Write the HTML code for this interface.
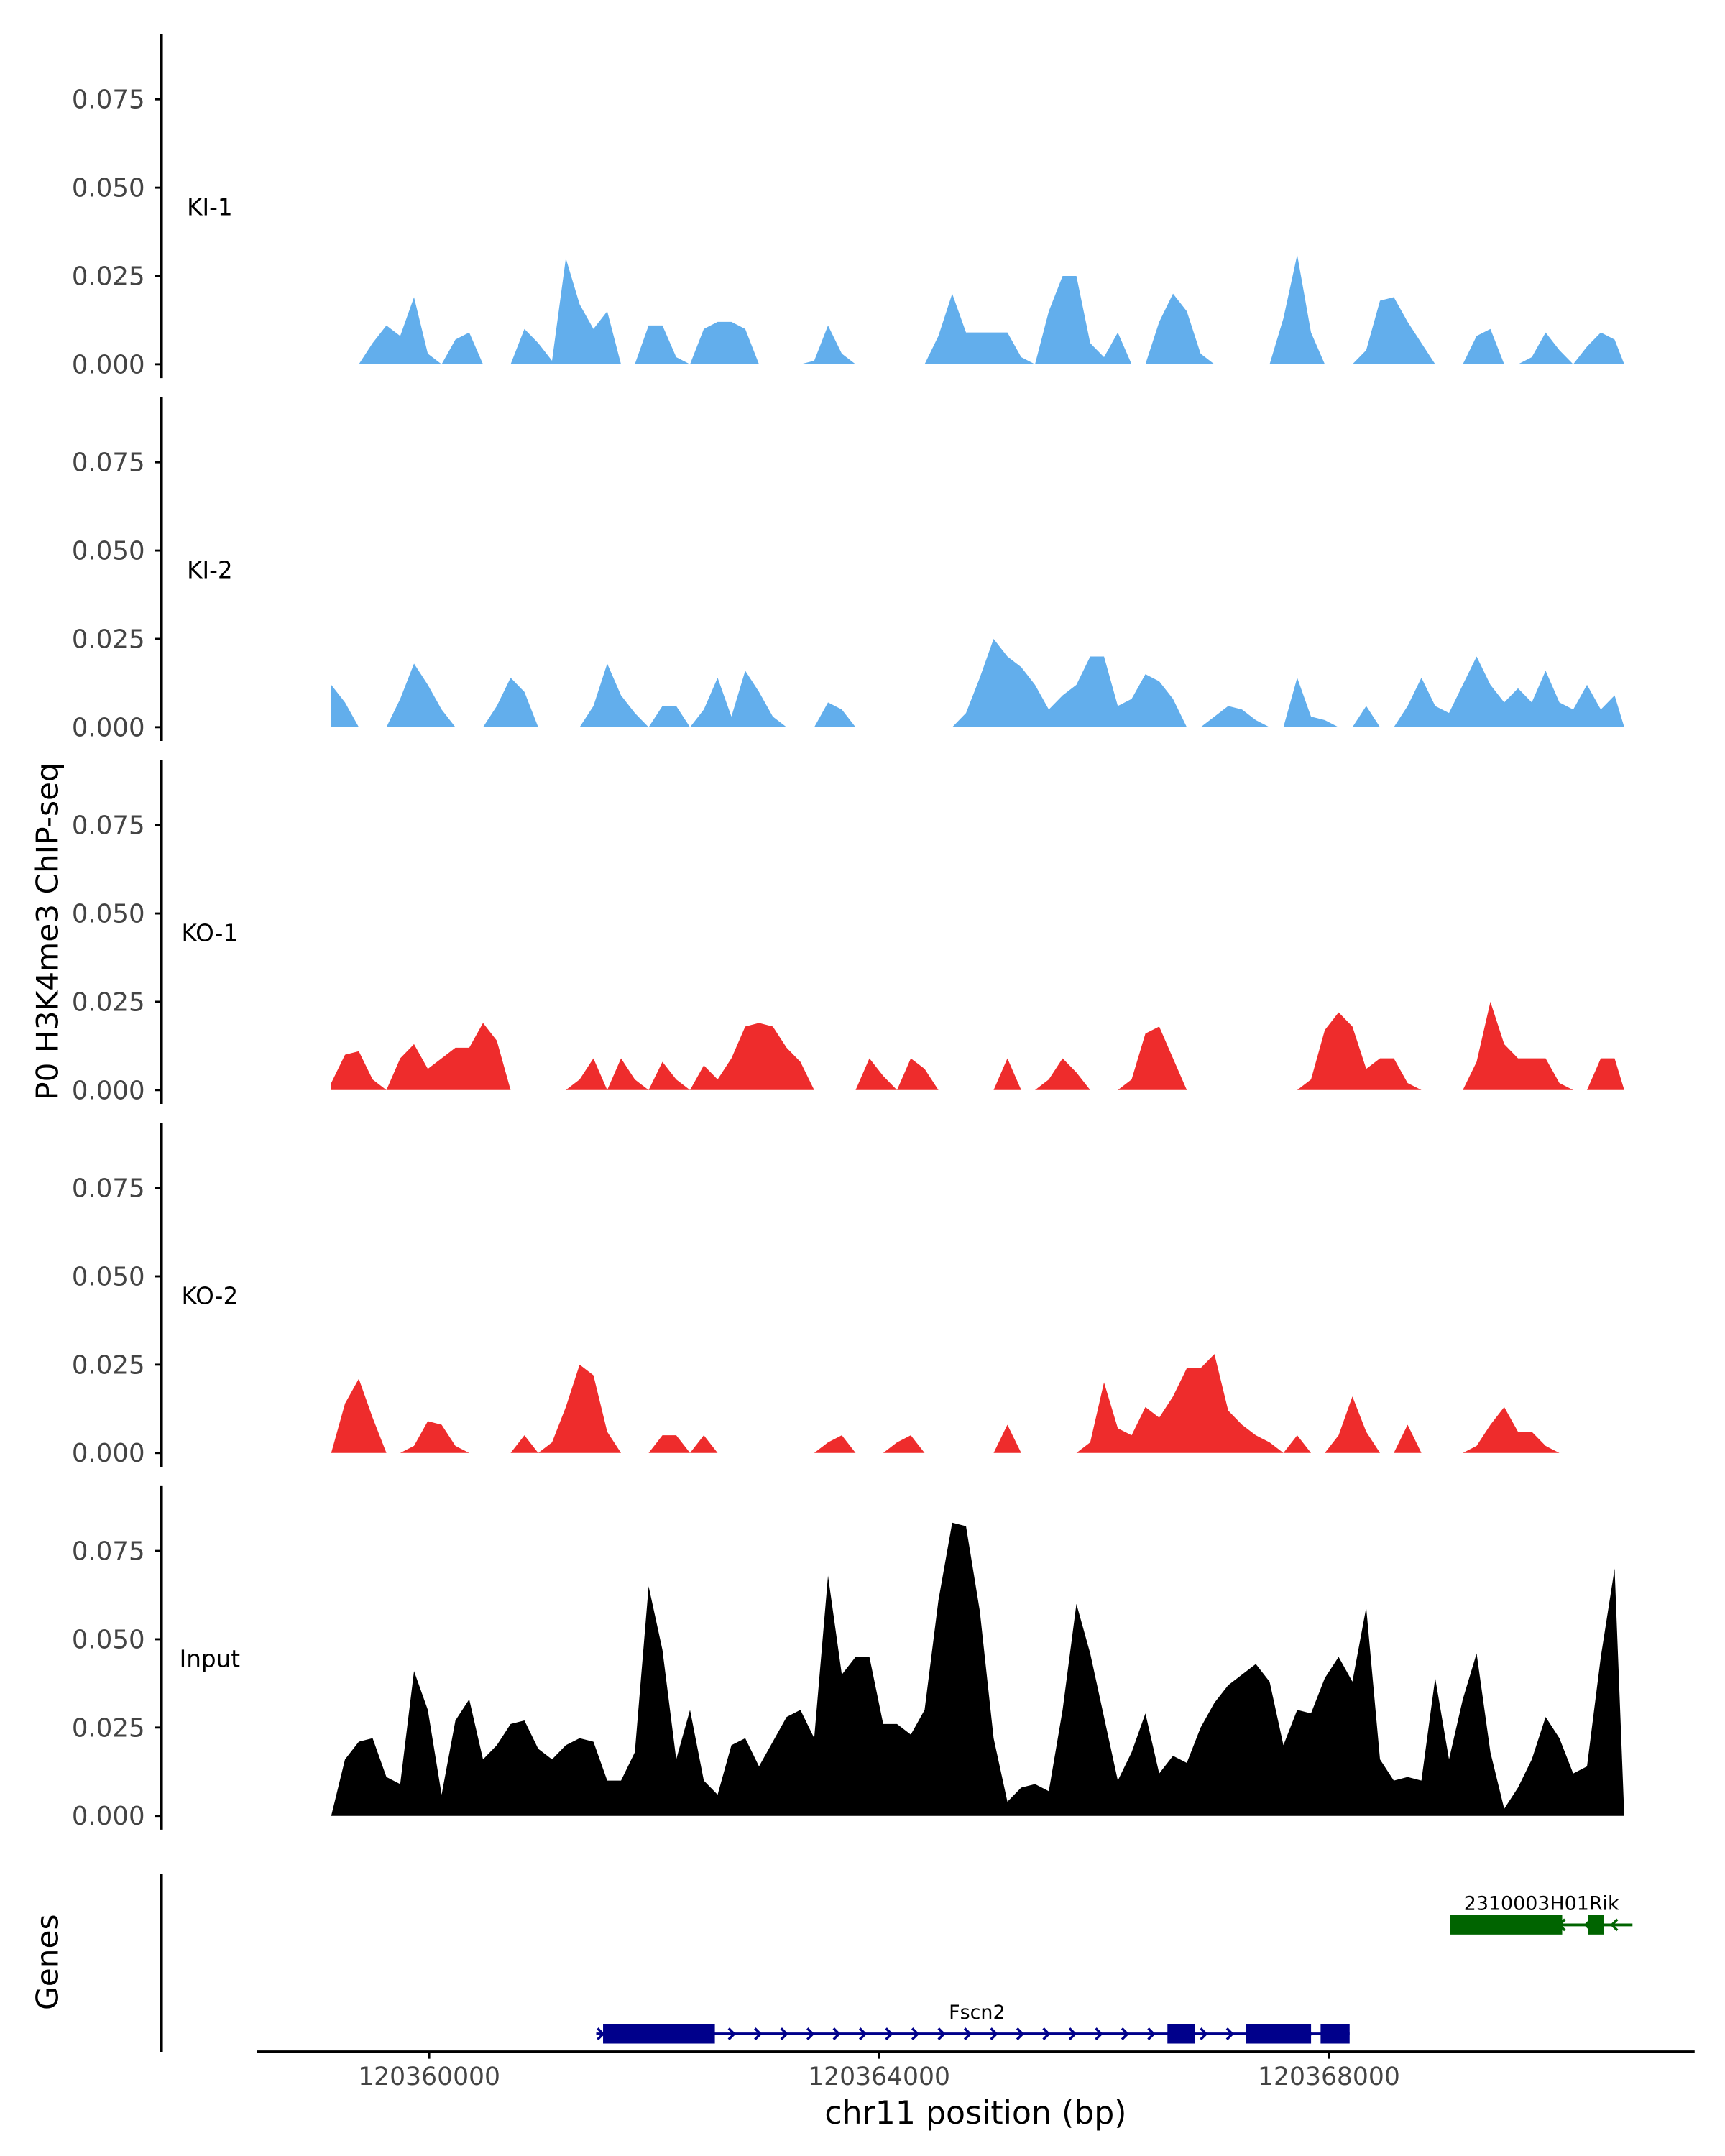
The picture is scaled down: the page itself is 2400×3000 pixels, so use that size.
<!DOCTYPE html>
<html><head><meta charset="utf-8"><style>
html,body{margin:0;padding:0;background:#fff}
svg{display:block}
text{font-family:"DejaVu Sans","Liberation Sans",sans-serif}
</style></head><body>
<svg id="chart" width="2400" height="3000" viewBox="0 0 1250 1562.5" xmlns="http://www.w3.org/2000/svg">
<rect width="1250" height="1562.5" fill="#fff"/>
<g id="tracks"></g>
<g id="genes"></g>
<text x="0" y="0" transform="translate(42,675) rotate(-90)" font-size="22" text-anchor="middle" fill="#000">P0 H3K4me3 ChIP-seq</text>
<text x="0" y="0" transform="translate(42,1422) rotate(-90)" font-size="22" text-anchor="middle" fill="#000">Genes</text>
<text x="707" y="1539" font-size="23" text-anchor="middle" fill="#000">chr11 position (bp)</text>
</svg>
<script>
const NS="http://www.w3.org/2000/svg";
// Data
const trackNames=["KI-1","KI-2","KO-1","KO-2","Input"];
const trackColors=["#62AEEC","#62AEEC","#EE2C2C","#EE2C2C","#000000"];
const binStart=120359129;
const binWidth=122.7;
const valueUnit=0.001;
const ki1=[0,0,0,6,11,8,19,3,0,7, 9,0,0,0,10,6,1,30,17,10, 15,0,0,11,11,2,0,10,12,12, 10,0,0,0,0,1,11,3,0,0, 0,0,0,0,8,20,9,9,9,9, 2,0,15,25,25,6,2,9,0,0, 12,20,15,3,0,0,0,0,0,13, 31,9,0,0,0,4,18,19,12,6, 0,0,0,8,10,0,0,2,9,4, 0,5,9,7];
const ki2=[12,7,0,0,0,8,18,12,5,0, 0,0,6,14,10,0,0,0,0,6, 18,9,4,0,6,6,0,5,14,3, 16,10,3,0,0,0,7,5,0,0, 0,0,0,0,0,0,4,14,25,20, 17,12,5,9,12,20,20,6,8,15, 13,8,0,0,3,6,5,2,0,0, 14,3,2,0,0,6,0,0,6,14, 6,4,12,20,12,7,11,7,16,7, 5,12,5,9];
const ko1=[2,10,11,3,0,9,13,6,9,12, 12,19,14,0,0,0,0,0,3,9, 0,9,3,0,8,3,0,7,3,9, 18,19,18,12,8,0,0,0,0,9, 4,0,9,6,0,0,0,0,0,9, 0,0,3,9,5,0,0,0,3,16, 18,9,0,0,0,0,0,0,0,0, 0,3,17,22,18,6,9,9,2,0, 0,0,0,8,25,13,9,9,9,2, 0,0,9,9];
const ko2=[0,14,21,10,0,0,2,9,8,2, 0,0,0,0,5,0,3,13,25,22, 6,0,0,0,5,5,0,5,0,0, 0,0,0,0,0,0,3,5,0,0, 0,3,5,0,0,0,0,0,0,8, 0,0,0,0,0,3,20,7,5,13, 10,16,24,24,28,12,8,5,3,0, 5,0,0,5,16,6,0,0,8,0, 0,0,0,2,8,13,6,6,2,0, 0,0,0,0];
const input=[0,16,21,22,11,9,41,30,6,27, 33,16,20,26,27,19,16,20,22,21, 10,10,18,65,47,16,30,10,6,20, 22,14,21,28,30,22,68,40,45,45, 26,26,23,30,61,83,82,58,22,4, 8,9,7,30,60,46,28,10,18,29, 12,17,15,25,32,37,40,43,38,20, 30,29,39,45,38,59,16,10,11,10, 39,16,33,46,18,2,8,16,28,22, 12,14,45,70];
const seriesList=[ki1,ki2,ko1,ko2,input];
const yTicks=[0,0.025,0.05,0.075];
const yTickLabels=["0.000","0.025","0.050","0.075"];
const xTicks=[120360000,120364000,120368000];
const xTickLabels=["120360000","120364000","120368000"];
const genes=["Fscn2","2310003H01Rik"];
const geneStarts=[120361485,120369080];
const geneEnds=[120368184,120370699];
const geneExonStarts=[[120361546,120366564,120367264,120367926],[120369080,120370307]];
const geneExonEnds=[[120362540,120366810,120367841,120368184],[120370074,120370442]];
const geneStrands=[1,-1];
const geneColors=["#00008B","#006400"];

// Scales
const xScale=bp=>311+(bp-120360000)*0.0815;
const baseY=[264,527,790,1053,1316];
const yScale=(i,v)=>baseY[i]-v*2560;

function el(tag,attrs,parent){const e=document.createElementNS(NS,tag);for(const k in attrs)e.setAttribute(k,attrs[k]);parent.appendChild(e);return e;}
const tracks=document.getElementById('tracks');
seriesList.forEach((s,i)=>{
  const g=el('g',{},tracks);
  
  
  const ax=el('line',{x1:117,x2:117,y1:baseY[i]-239,y2:baseY[i]+10,stroke:'#000','stroke-width':2},g);
  
  
  yTicks.forEach((t,k)=>{
    const y=yScale(i,t);
    const tk=el('line',{x1:112,x2:117,y1:y,y2:y,stroke:'#000','stroke-width':1.5},g);
    
    
    const tl=el('text',{x:105,y:y+6.5,'font-size':18.5,'text-anchor':'end',fill:'#444'},g);
    tl.textContent=yTickLabels[k];
    
    
  });
  const lb=el('text',{x:152,y:yScale(i,0.0445)+6,'font-size':17,'text-anchor':'middle',fill:'#000'},g);
  lb.textContent=trackNames[i];
  
  
  let pts=[];
  const x0=xScale(binStart);
  pts.push(x0+','+baseY[i]);
  s.forEach((v,k)=>{pts.push(xScale(binStart+k*binWidth)+','+yScale(i,v*valueUnit));});
  const xe=xScale(binStart+(s.length-1)*binWidth)+7;
  pts.push(xe+','+baseY[i]);
  const a=el('polygon',{points:pts.join(' '),fill:trackColors[i]},g);
  
  
});
// Genes panel
const gg=document.getElementById('genes');
const gax=el('line',{x1:117,x2:117,y1:1358,y2:1487,stroke:'#000','stroke-width':2},gg);


const xax=el('line',{x1:186,x2:1228,y1:1487,y2:1487,stroke:'#000','stroke-width':2},gg);


xTicks.forEach((t,k)=>{
  const x=xScale(t);
  const tk=el('line',{x1:x,x2:x,y1:1487,y2:1492,stroke:'#000','stroke-width':1.5},gg);
  
  
  const tl=el('text',{x:x,y:1511,'font-size':18,'text-anchor':'middle',fill:'#444'},gg);
  tl.textContent=xTickLabels[k];
  
  
});
const geneY=[1474,1395];
genes.forEach((name,i)=>{
  const g=el('g',{},gg);
  
  
  const xs=xScale(geneStarts[i]),xe=xScale(geneEnds[i]),y=geneY[i],c=geneColors[i];
  el('line',{x1:xs,x2:xe,y1:y,y2:y,stroke:c,'stroke-width':2},g);
  for(let x=xs+4;x<xe;x+=19){
    const d=geneStrands[i]>0?`M${x-3},${y-4} L${x+1},${y} L${x-3},${y+4}`:`M${x+3},${y-4} L${x-1},${y} L${x+3},${y+4}`;
    el('path',{d:d,stroke:c,'stroke-width':1.8,fill:'none'},g);
  }
  geneExonStarts[i].forEach((s,k)=>{
    const ex=el('rect',{x:xScale(s),y:y-7,width:xScale(geneExonEnds[i][k])-xScale(s),height:14,fill:c},g);
    
    
  });
  const lb=el('text',{x:i==0?708:1117,y:y-11,'font-size':14,'text-anchor':'middle',fill:'#000'},g);
  lb.textContent=name;
  
  
});
</script>
</body></html>
